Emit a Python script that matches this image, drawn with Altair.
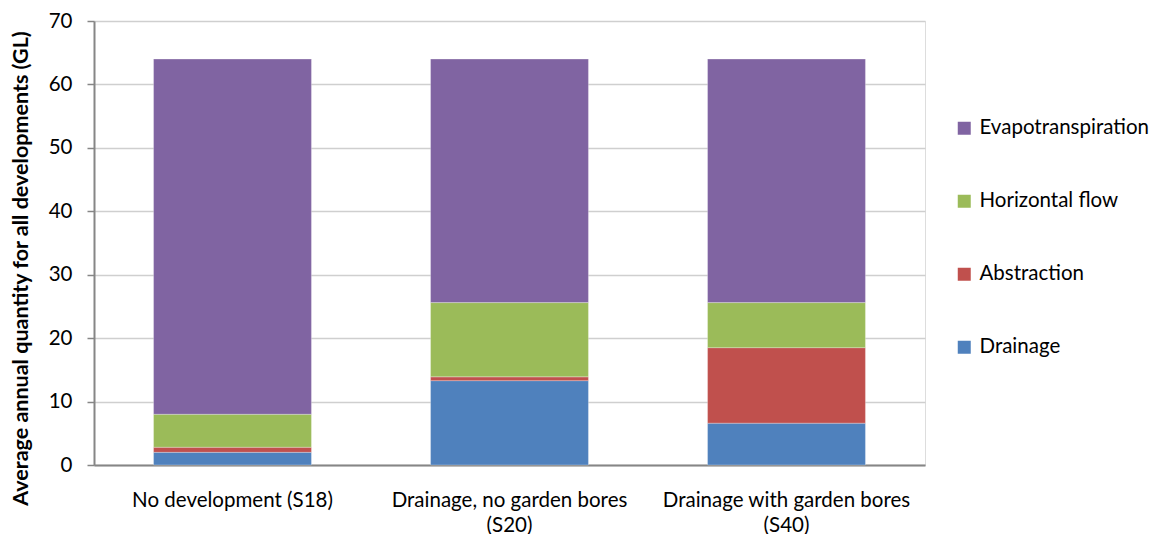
import altair as alt
import pandas as pd

categories = ["No development (S18)", "Drainage, no garden bores (S20)", "Drainage with garden bores (S40)"]
series = ["Drainage", "Abstraction", "Horizontal flow", "Evapotranspiration"]
drainage = [2.0, 13.3, 6.6]
abstraction = [0.8, 0.6, 11.9]
horizontal_flow = [5.2, 11.7, 7.1]
evapotranspiration = [56.0, 38.4, 38.4]

legend_order = ["Evapotranspiration", "Horizontal flow", "Abstraction", "Drainage"]
colors = ["#8064A2", "#9BBB59", "#C0504D", "#4F81BD"]

rows = []
for name, vals in zip(series, [drainage, abstraction, horizontal_flow, evapotranspiration]):
    for cat, v in zip(categories, vals):
        rows.append({"category": cat, "series": name, "value": v, "order": series.index(name)})
df = pd.DataFrame(rows)

FONT = "Lato"
FS = 20.5

chart = alt.Chart(df).mark_bar(stroke="#ffffff", strokeWidth=0.8, strokeOpacity=0.35).encode(
    x=alt.X("category:N", sort=categories,
            scale=alt.Scale(paddingInner=0.43, paddingOuter=0.215),
            axis=alt.Axis(title=None, labelAngle=0, ticks=False, domainColor="#868686", domainWidth=2,
                          labelFont=FONT, labelFontSize=FS, labelColor="#000000", labelPadding=41,
                          labelLimit=400, labelLineHeight=25, labelBaseline="alphabetic",
                          labelExpr="slice(datum.label, 0, 8) == 'Drainage' ? split(replace(datum.label, ' (', '|('), '|') : datum.label")),
    y=alt.Y("value:Q", stack="zero",
            scale=alt.Scale(domain=[0, 70], nice=False),
            axis=alt.Axis(title="Average annual quantity for all developments (GL)", values=list(range(0, 71, 10)),
                          titleFont=FONT, titleFontSize=21.5, titleFontWeight="bold", titleColor="#000000",
                          titleX=-73, titleY=247, titleAngle=270, titleAlign="center", titleBaseline="middle",
                          labelFont=FONT, labelFontSize=FS, labelColor="#000000", labelPadding=15,
                          tickSize=7, tickColor="#868686", tickWidth=1.5,
                          domainColor="#868686", domainWidth=2,
                          grid=True, gridColor="#cfcfcf", gridWidth=1.5)),
    color=alt.Color("series:N", scale=alt.Scale(domain=legend_order, range=colors),
                    legend=alt.Legend(title=None, orient="none", legendX=860, legendY=97,
                                      symbolType="square", symbolSize=169, symbolStrokeWidth=0,
                                      labelFont=FONT, labelFontSize=FS, labelColor="#000000",
                                      labelOffset=5, rowPadding=52, labelLimit=300)),
    order=alt.Order("order:Q", sort="ascending"),
).properties(
    width=831, height=444,
    autosize=alt.AutoSizeParams(type="none"),
    padding={"left": 86, "top": 13, "right": 225, "bottom": 69},
).configure_view(stroke=None).configure(background="#ffffff")

chart.save("out.html", embed_options={"renderer": "svg", "actions": False})
